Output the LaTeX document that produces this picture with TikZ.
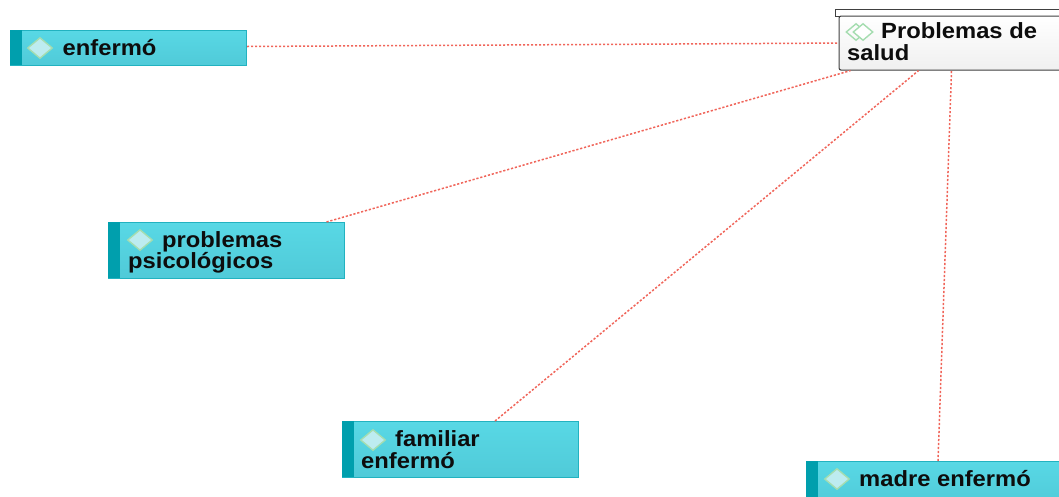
\documentclass[tikz,border=0pt]{standalone}
\usepackage{fontspec}
\setmainfont[FakeStretch=1.08]{Liberation Sans}
\usetikzlibrary{calc,shapes.geometric}
\definecolor{cyantop}{HTML}{58D8E5}
\definecolor{cyanbot}{HTML}{50CAD8}
\definecolor{cyanedge}{HTML}{22B2C0}
\definecolor{stripe}{HTML}{009FAD}
\definecolor{link}{HTML}{F0655A}
\definecolor{dia}{HTML}{BDECF0}
\definecolor{diaedge}{HTML}{A5DDB0}
\tikzset{
 x=1pt,y=-1pt,
 codebox/.style={draw=cyanedge,line width=1pt,top color=cyantop,bottom color=cyanbot,minimum width=#1,inner sep=0pt,anchor=north west},
 stripebar/.style={fill=stripe,draw=none,minimum width=12pt,inner sep=0pt,anchor=north west},
 dmark/.style={diamond,aspect=1.15,draw=diaedge,line width=1.4pt,fill=dia,minimum width=25pt,minimum height=21pt,inner sep=0pt},
 label/.style={font=\fontsize{22}{22}\selectfont\bfseries,text=black!95,inner sep=0pt,align=left,anchor=base west},
 hubbox/.style={draw=black!75,line width=1.1pt,top color=white,bottom color=black!6,rounded corners=2pt,inner sep=0pt,anchor=north west},
 hubtop/.style={draw=black!75,line width=1.1pt,fill=white,inner sep=0pt,anchor=north west},
 linkline/.style={draw=link,line width=1.5pt,dash pattern=on 2.2pt off 1.8pt},
}
\begin{document}
\begin{tikzpicture}
\useasboundingbox (0,0) rectangle (1059,496);
\begin{scope}
\clip (0,0) rectangle (1059,496);
% hub
\node[hubtop,minimum width=240pt,minimum height=7pt] (hubt) at (835,9) {};
\node[hubbox,minimum width=240pt,minimum height=54pt] (hub) at (838.5,15.5) {};
\node[dmark,fill=none,minimum width=20pt,minimum height=17pt] (hd1) at (856,32) {};
\node[dmark,fill=white,minimum width=20pt,minimum height=17pt] (hd2) at (863,32) {};
\node[label] (ht1) at (881,38.5) {Problemas de};
\node[label] (ht2) at (847,60) {salud};
% boxes
\node[codebox=236pt,minimum height=35pt] (a) at (10,30) {};
\node[stripebar,minimum height=35pt] (as) at (10,30) {};
\node[dmark] (ad) at (40,48) {};
\node[label] (at) at (62.5,55) {enfermó};

\node[codebox=236pt,minimum height=56pt] (b) at (108,222) {};
\node[stripebar,minimum height=56pt] (bs) at (108,222) {};
\node[dmark] (bd) at (140,240) {};
\node[label] (bt1) at (162,247) {problemas};
\node[label] (bt2) at (128,268) {psicológicos};

\node[codebox=236pt,minimum height=56pt] (c) at (342,421) {};
\node[stripebar,minimum height=56pt] (cs) at (342,421) {};
\node[dmark] (cd) at (373,440) {};
\node[label] (ct1) at (395,446) {familiar};
\node[label] (ct2) at (361,468) {enfermó};

\node[codebox=270pt,minimum height=45pt] (d) at (806,461) {};
\node[stripebar,minimum height=45pt] (ds) at (806,461) {};
\node[dmark] (dd) at (837,479) {};
\node[label] (dt) at (859,486) {madre enfermó};
% connectors
\draw[linkline] ([yshift=1.5pt]a.east) -- (hub.west);
\draw[linkline] ([xshift=100pt]b.north) -- ([xshift=12pt]hub.south west);
\draw[linkline] ([xshift=153pt]c.north west) -- ([xshift=80pt]hub.south west);
\draw[linkline] ([xshift=132pt]d.north west) -- ([xshift=113pt]hub.south west);
\end{scope}
\end{tikzpicture}
\end{document}
